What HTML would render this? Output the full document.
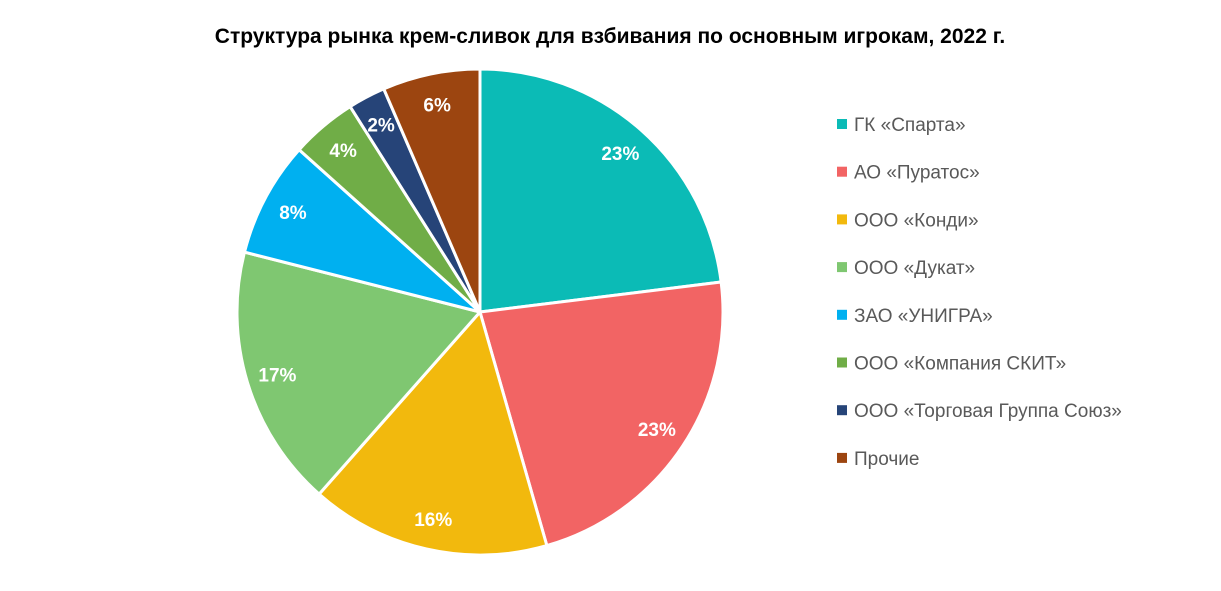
<!DOCTYPE html>
<html><head><meta charset="utf-8"><style>
body{margin:0;background:#fff;width:1221px;height:586px;overflow:hidden;font-family:"Liberation Sans","DejaVu Sans",sans-serif}
</style></head><body>
<svg width="1221" height="586">
<text x="610" y="43" text-anchor="middle" font-size="21" font-weight="bold" fill="#000">Структура рынка крем-сливок для взбивания по основным игрокам, 2022 г.</text>
<g id="slices"></g><g id="labels"></g><g id="legend"></g>
</svg>
<script>
const categories=["ГК «Спарта»","АО «Пуратос»","ООО «Конди»","ООО «Дукат»","ЗАО «УНИГРА»","ООО «Компания СКИТ»","ООО «Торговая Группа Союз»","Прочие"];
const values=[23.1,22.6,16,17.5,7.7,4.4,2.5,6.5];
const colors=["#0BBBB6","#F26464","#F2B90D","#7FC771","#00B0F0","#70AD47","#264478","#9C4510"];
const cx=480,cy=312,R=243,LR=212,NS="http://www.w3.org/2000/svg";
const total=values.reduce((a,b)=>a+b,0);
function pt(a,r){return [cx+r*Math.sin(a),cy-r*Math.cos(a)];}
let acc=0;
const sg=document.getElementById('slices'),lg=document.getElementById('labels'),leg=document.getElementById('legend');
values.forEach((v,i)=>{
 const a0=acc/total*2*Math.PI;acc+=v;const a1=acc/total*2*Math.PI;
 const p0=pt(a0,R),p1=pt(a1,R);
 const p=document.createElementNS(NS,'path');
 p.setAttribute('d',`M${cx},${cy}L${p0[0]},${p0[1]}A${R},${R} 0 ${a1-a0>Math.PI?1:0} 1 ${p1[0]},${p1[1]}Z`);
 p.setAttribute('fill',colors[i]);p.setAttribute('stroke','#fff');p.setAttribute('stroke-width','3');p.setAttribute('stroke-linejoin','round');
 
 
 sg.appendChild(p);
 const m=pt((a0+a1)/2,LR);
 const t=document.createElementNS(NS,'text');
 t.setAttribute('x',m[0]);t.setAttribute('y',m[1]+7);t.setAttribute('text-anchor','middle');
 t.setAttribute('font-size','19');t.setAttribute('font-weight','bold');t.setAttribute('fill','#fff');
 t.textContent=Math.round(v/total*100)+'%';
 
 
 lg.appendChild(t);
 const y=124+i*47.7;
 const g=document.createElementNS(NS,'g');
 
 
 const r=document.createElementNS(NS,'rect');
 r.setAttribute('x',837);r.setAttribute('y',y-5);r.setAttribute('width',10);r.setAttribute('height',10);r.setAttribute('fill',colors[i]);
 const lt=document.createElementNS(NS,'text');
 lt.setAttribute('x',854);lt.setAttribute('y',y+7);lt.setAttribute('font-size','19');lt.setAttribute('fill','#595959');
 lt.textContent=categories[i];
 g.appendChild(r);g.appendChild(lt);leg.appendChild(g);
});
</script>
</body></html>
